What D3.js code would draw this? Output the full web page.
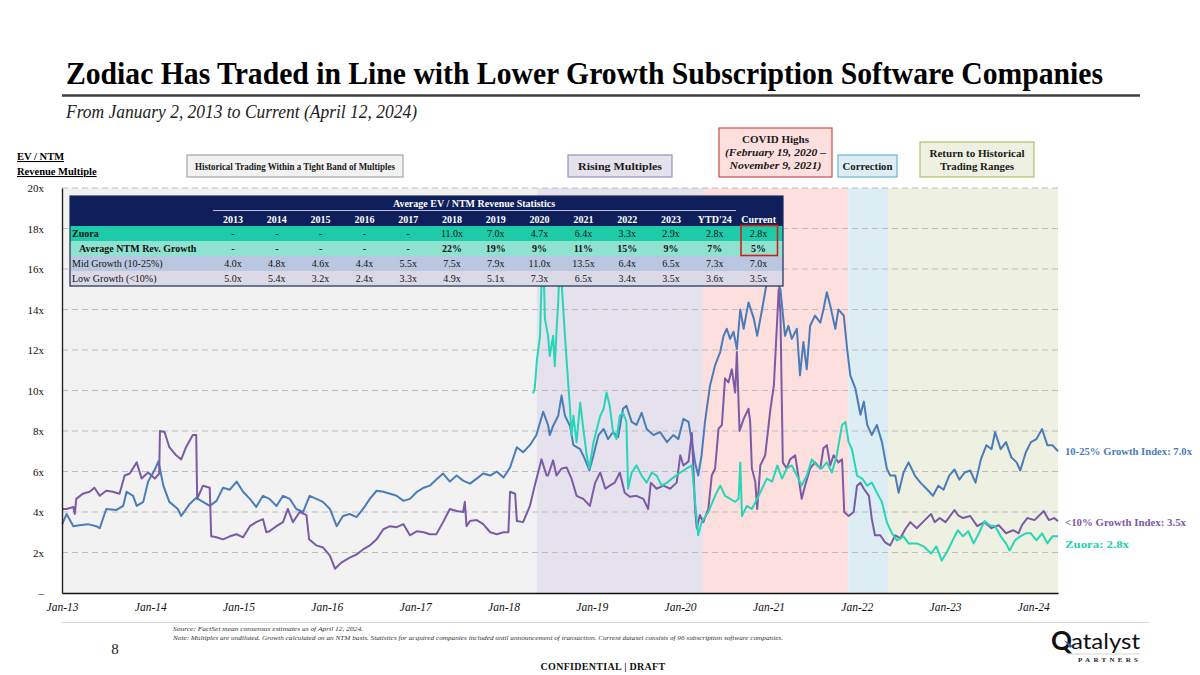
<!DOCTYPE html>
<html><head><meta charset="utf-8">
<script src="https://cdn.jsdelivr.net/npm/d3@7"></script>
<style>
body{margin:0;background:#fff;}
svg{display:block;font-family:"Liberation Serif","Times New Roman",serif;}
</style></head><body>
<svg id="c" width="1200" height="675"></svg>
<script>
// ---------- DATA ----------
const midGrowth = [
["2013-01-02",3.4],["2013-01-20",3.9],["2013-02-17",3.3],["2013-03-14",3.35],["2013-04-18",3.4],["2013-05-22",3.3],["2013-06-06",3.2],["2013-07-03",4.15],["2013-08-14",4.1],["2013-09-11",4.3],["2013-09-25",5.0],["2013-10-22",4.8],["2013-11-06",4.3],["2013-12-03",4.5],["2013-12-23",5.5],
["2014-01-20",6.1],["2014-02-04",6.5],["2014-02-24",5.3],["2014-03-21",4.5],["2014-04-25",4.15],["2014-05-09",3.8],["2014-06-13",4.4],["2014-07-10",4.7],["2014-08-07",4.5],["2014-09-04",4.3],["2014-10-02",4.55],["2014-10-29",5.2],["2014-11-26",5.1],["2014-12-24",5.5],
["2015-01-20",5.0],["2015-02-17",4.65],["2015-03-15",4.25],["2015-04-12",4.8],["2015-05-09",4.65],["2015-06-07",4.3],["2015-07-04",4.8],["2015-08-01",4.65],["2015-08-28",4.15],["2015-09-25",4.0],["2015-10-22",4.8],["2015-11-19",4.65],["2015-12-16",4.5],
["2016-01-14",4.15],["2016-02-11",3.3],["2016-03-08",3.8],["2016-04-05",3.9],["2016-05-03",3.75],["2016-05-30",4.15],["2016-06-27",4.65],["2016-07-25",5.05],["2016-08-22",5.0],["2016-09-19",4.9],["2016-10-16",4.8],["2016-11-13",4.55],["2016-12-10",4.65],
["2017-01-08",5.0],["2017-02-05",5.2],["2017-03-02",5.3],["2017-03-29",5.6],["2017-04-26",5.9],["2017-05-24",5.5],["2017-06-21",5.8],["2017-07-18",5.55],["2017-08-15",5.4],["2017-09-12",5.65],["2017-10-09",5.9],["2017-11-07",5.8],["2017-12-04",6.0],
["2018-01-01",5.7],["2018-01-28",6.2],["2018-02-25",7.2],["2018-03-23",6.95],["2018-04-20",7.3],["2018-05-17",7.8],["2018-06-14",8.95],["2018-07-04",8.3],["2018-07-11",7.8],["2018-07-25",8.25],["2018-08-15",8.75],["2018-08-29",9.75],["2018-09-12",8.75],["2018-10-03",8.25],["2018-10-17",7.3],["2018-11-14",7.1],["2018-12-04",6.6],["2018-12-22",6.05],
["2019-01-08",6.8],["2019-01-29",7.8],["2019-02-19",8.1],["2019-03-09",7.6],["2019-03-30",7.95],["2019-04-20",7.7],["2019-05-10",9.1],["2019-05-24",9.25],["2019-06-15",8.45],["2019-07-05",8.3],["2019-07-26",8.9],["2019-08-16",8.1],["2019-09-13",7.8],["2019-10-10",7.95],["2019-11-08",7.45],["2019-12-04",7.8],["2019-12-25",7.6],
["2020-01-15",8.6],["2020-02-05",8.45],["2020-02-19",7.45],["2020-03-03",6.45],["2020-03-16",5.8],["2020-03-30",6.8],["2020-04-13",8.45],["2020-05-04",10.25],["2020-05-25",11.25],["2020-06-15",11.9],["2020-06-29",12.7],["2020-07-12",13.05],["2020-07-26",12.55],["2020-08-09",12.9],["2020-08-23",12.05],["2020-09-06",14.0],["2020-09-20",13.05],["2020-10-10",14.35],["2020-11-01",13.55],["2020-11-15",12.7],["2020-12-05",14.0],["2020-12-25",15.35],
["2021-01-09",16.5],["2021-01-20",17.2],["2021-01-29",15.5],["2021-02-19",15.0],["2021-03-10",12.7],["2021-03-24",13.2],["2021-04-07",12.55],["2021-04-28",13.05],["2021-05-11",10.75],["2021-05-25",12.4],["2021-06-08",11.05],["2021-06-22",13.2],["2021-07-12",13.7],["2021-08-03",13.35],["2021-08-16",14.0],["2021-08-30",14.85],["2021-09-13",14.2],["2021-10-04",13.05],["2021-10-17",14.0],["2021-11-08",13.7],["2021-11-22",12.05],["2021-12-05",10.75],["2021-12-26",10.1],
["2022-01-16",8.8],["2022-01-30",9.45],["2022-02-13",8.3],["2022-03-04",7.8],["2022-03-25",8.3],["2022-04-15",7.45],["2022-05-05",6.15],["2022-05-19",5.8],["2022-06-09",5.8],["2022-06-23",4.95],["2022-07-13",5.95],["2022-08-03",6.45],["2022-08-29",5.8],["2022-09-21",5.45],["2022-10-20",5.1],["2022-11-12",4.8],["2022-12-04",5.3],["2022-12-26",5.1],
["2023-01-18",5.8],["2023-02-09",6.1],["2023-03-01",5.6],["2023-03-23",5.95],["2023-04-15",6.05],["2023-05-07",5.45],["2023-05-29",6.6],["2023-06-21",7.3],["2023-07-12",7.1],["2023-07-27",7.95],["2023-08-19",7.1],["2023-09-10",7.45],["2023-10-02",6.7],["2023-10-24",6.45],["2023-11-08",6.05],["2023-12-01",6.95],["2023-12-22",7.45],
["2024-01-14",7.6],["2024-02-06",8.1],["2024-02-28",7.3],["2024-03-20",7.3],["2024-04-12",7.0]
];
const lowGrowth = [
["2013-01-02",4.15],["2013-01-20",4.15],["2013-02-17",4.25],["2013-02-23",3.9],["2013-03-01",4.65],["2013-03-28",4.9],["2013-04-25",5.0],["2013-05-15",5.2],["2013-06-06",4.8],["2013-07-03",5.05],["2013-07-30",5.0],["2013-08-27",4.9],["2013-09-17",5.8],["2013-10-08",5.9],["2013-11-06",6.45],["2013-11-26",5.65],["2013-12-23",5.95],
["2014-01-20",5.65],["2014-02-07",5.9],["2014-02-10",8.0],["2014-03-01",7.95],["2014-03-21",7.2],["2014-04-18",6.8],["2014-05-09",6.6],["2014-05-29",7.2],["2014-06-26",7.8],["2014-07-10",7.8],["2014-07-14",4.65],["2014-08-07",5.3],["2014-09-04",5.2],["2014-09-10",2.8],["2014-10-02",2.75],["2014-10-29",2.65],["2014-11-26",2.8],["2014-12-24",2.9],
["2015-01-20",2.75],["2015-02-17",3.3],["2015-03-15",3.5],["2015-04-12",3.65],["2015-04-26",3.0],["2015-05-09",3.05],["2015-06-07",3.3],["2015-07-04",3.5],["2015-07-24",4.15],["2015-08-14",3.5],["2015-09-11",4.0],["2015-10-09",3.85],["2015-10-20",2.65],["2015-11-19",2.35],["2015-12-16",2.25],
["2016-01-14",1.85],["2016-02-04",1.2],["2016-03-01",1.5],["2016-04-05",1.75],["2016-05-03",1.9],["2016-05-30",2.15],["2016-06-27",2.35],["2016-07-25",2.65],["2016-08-22",3.15],["2016-09-19",3.3],["2016-10-16",3.25],["2016-11-13",3.4],["2016-12-10",2.85],
["2017-01-08",3.05],["2017-02-05",3.0],["2017-03-02",2.9],["2017-03-29",2.9],["2017-04-26",3.5],["2017-05-24",4.15],["2017-06-21",4.05],["2017-07-18",4.0],["2017-07-25",4.5],["2017-08-01",3.3],["2017-08-15",3.55],["2017-09-12",3.6],["2017-10-09",3.4],["2017-11-07",3.0],["2017-12-04",2.9],
["2018-01-01",3.0],["2018-01-21",3.0],["2018-01-28",5.0],["2018-02-18",4.9],["2018-02-25",3.55],["2018-03-23",3.5],["2018-04-20",4.3],["2018-05-10",5.3],["2018-06-07",6.6],["2018-06-28",5.8],["2018-07-04",5.8],["2018-07-25",6.55],["2018-08-08",5.8],["2018-08-29",6.15],["2018-09-19",6.2],["2018-10-09",5.65],["2018-10-30",4.8],["2018-11-27",4.65],["2018-12-24",4.3],
["2019-01-15",5.45],["2019-02-05",5.95],["2019-02-26",5.15],["2019-03-16",5.3],["2019-04-06",5.45],["2019-04-27",5.95],["2019-05-17",4.95],["2019-06-07",4.75],["2019-07-05",4.8],["2019-08-02",4.65],["2019-08-22",4.15],["2019-09-02",5.45],["2019-09-26",5.15],["2019-10-24",5.3],["2019-11-21",5.15],["2019-12-18",5.45],
["2020-01-02",6.8],["2020-01-15",6.3],["2020-02-05",6.5],["2020-02-19",7.9],["2020-03-03",4.2],["2020-03-10",3.2],["2020-03-23",3.85],["2020-04-06",3.5],["2020-04-27",4.15],["2020-05-11",5.8],["2020-05-25",6.15],["2020-06-08",8.1],["2020-06-22",8.3],["2020-07-05",10.6],["2020-07-19",10.4],["2020-08-02",11.05],["2020-08-16",9.9],["2020-08-23",11.9],["2020-09-03",8.0],["2020-09-20",8.6],["2020-10-10",9.1],["2020-10-17",8.45],["2020-10-24",6.15],["2020-11-07",5.5],["2020-11-15",4.15],["2020-11-28",6.3],["2020-12-18",6.8],
["2021-01-09",9.1],["2021-01-23",10.25],["2021-02-06",13.55],["2021-02-12",15.0],["2021-02-19",13.85],["2021-03-01",6.45],["2021-03-17",6.15],["2021-03-31",6.6],["2021-04-21",6.8],["2021-05-04",5.8],["2021-05-18",4.65],["2021-06-01",5.3],["2021-06-22",6.15],["2021-07-12",6.45],["2021-08-03",6.15],["2021-08-16",7.15],["2021-08-30",7.3],["2021-09-13",6.3],["2021-09-27",6.8],["2021-10-17",6.45],["2021-11-01",6.6],["2021-11-10",4.0],["2021-11-28",3.8],["2021-12-19",4.0],
["2022-01-02",5.3],["2022-01-16",5.45],["2022-01-30",5.15],["2022-02-20",4.8],["2022-03-04",3.65],["2022-03-17",2.85],["2022-04-08",2.85],["2022-04-28",2.5],["2022-05-19",2.35],["2022-06-09",2.85],["2022-06-30",2.7],["2022-07-20",3.15],["2022-08-10",3.5],["2022-09-06",3.2],["2022-10-05",3.55],["2022-11-04",3.9],["2022-11-19",3.5],["2022-12-10",3.7],
["2023-01-03",3.5],["2023-02-09",4.1],["2023-02-23",3.85],["2023-03-16",3.7],["2023-04-15",3.8],["2023-05-14",3.3],["2023-06-13",3.5],["2023-07-12",3.2],["2023-08-11",3.35],["2023-09-10",2.95],["2023-10-09",3.1],["2023-11-01",2.95],["2023-11-15",3.35],["2023-12-07",3.7],
["2024-01-06",3.6],["2024-02-13",4.05],["2024-03-05",3.6],["2024-03-27",3.7],["2024-04-12",3.55]
];
const zuora = [
["2018-05-03",9.85],["2018-05-10",10.1],["2018-05-19",11.5],["2018-06-01",12.7],["2018-06-07",15.3],["2018-06-14",17.0],["2018-06-21",13.55],["2018-07-04",12.7],["2018-07-11",11.7],["2018-07-25",12.7],["2018-08-01",11.2],["2018-08-08",12.9],["2018-08-15",14.35],["2018-08-22",16.5],["2018-08-29",15.35],["2018-09-12",12.7],["2018-09-26",10.25],["2018-10-03",9.1],["2018-10-09",7.8],["2018-10-17",8.75],["2018-10-30",7.45],["2018-11-14",9.4],["2018-11-27",8.1],["2018-12-11",6.8],["2018-12-22",6.15],
["2019-01-08",7.45],["2019-01-22",8.1],["2019-02-05",8.75],["2019-02-19",9.1],["2019-03-03",9.9],["2019-03-16",9.25],["2019-03-30",7.95],["2019-04-13",7.6],["2019-04-27",8.75],["2019-05-10",8.9],["2019-05-24",8.45],["2019-05-31",5.15],["2019-06-15",5.95],["2019-07-05",6.3],["2019-07-26",5.8],["2019-08-16",5.45],["2019-09-06",5.95],["2019-09-26",5.8],["2019-10-17",5.3],["2019-11-08",5.45],["2019-12-04",5.7],
["2020-01-02",5.95],["2020-01-29",6.15],["2020-02-19",6.3],["2020-03-03",4.5],["2020-03-16",2.85],["2020-03-30",3.5],["2020-04-27",4.0],["2020-05-25",4.8],["2020-06-15",5.3],["2020-07-05",4.8],["2020-07-26",4.65],["2020-08-16",4.5],["2020-08-30",4.65],["2020-09-06",6.45],["2020-09-13",3.8],["2020-10-03",4.3],["2020-10-24",4.15],["2020-11-15",4.65],["2020-12-05",5.15],["2020-12-25",5.65],
["2021-01-16",5.5],["2021-02-06",6.3],["2021-02-26",5.65],["2021-03-17",6.15],["2021-04-07",6.3],["2021-04-28",5.8],["2021-05-18",5.3],["2021-06-08",5.8],["2021-06-29",6.6],["2021-07-19",6.3],["2021-08-09",6.15],["2021-08-30",6.45],["2021-09-20",5.95],["2021-10-10",6.8],["2021-11-01",8.3],["2021-11-15",8.45],["2021-11-28",7.45],["2021-12-12",7.1],
["2022-01-02",5.8],["2022-01-23",5.65],["2022-02-13",5.3],["2022-03-04",5.45],["2022-03-25",4.95],["2022-04-15",4.5],["2022-05-05",3.5],["2022-05-26",2.95],["2022-06-16",2.6],["2022-07-13",2.8],["2022-08-03",2.45],["2022-09-06",2.45],["2022-10-05",2.3],["2022-11-04",1.95],["2022-11-26",2.3],["2022-12-18",1.6],
["2023-01-10",2.05],["2023-02-01",2.6],["2023-02-23",3.1],["2023-03-16",2.8],["2023-04-07",3.05],["2023-04-29",2.45],["2023-05-21",2.95],["2023-06-13",3.55],["2023-07-04",3.35],["2023-07-27",3.3],["2023-08-19",2.8],["2023-09-10",2.45],["2023-09-25",2.1],["2023-10-17",2.6],["2023-11-08",2.8],["2023-12-01",2.95],["2023-12-22",2.95],
["2024-01-14",2.6],["2024-02-06",2.95],["2024-02-28",2.45],["2024-03-20",2.8],["2024-04-12",2.8]
];
const yTickValues = [0,2,4,6,8,10,12,14,16,18,20];
const yTickLabels = ["–","2x","4x","6x","8x","10x","12x","14x","16x","18x","20x"];
const xTickDates = ["2013-01-01","2014-01-01","2015-01-01","2016-01-01","2017-01-01","2018-01-01","2019-01-01","2020-01-01","2021-01-01","2022-01-01","2023-01-01","2024-01-01"];
const xTickLabels = ["Jan-13","Jan-14","Jan-15","Jan-16","Jan-17","Jan-18","Jan-19","Jan-20","Jan-21","Jan-22","Jan-23","Jan-24"];
const phaseStarts = ["2013-01-01","2018-05-18","2020-04-05","2021-11-27","2022-05-10"];
const phaseEnds   = ["2018-05-18","2020-04-05","2021-11-27","2022-05-10","2024-04-12"];
const tableCols = ["2013","2014","2015","2016","2017","2018","2019","2020","2021","2022","2023","YTD'24","Current"];
const tableRowLabels = ["Zuora","Average NTM Rev. Growth","Mid Growth (10-25%)","Low Growth (<10%)"];
const tableZuora  = ["-","-","-","-","-","11.0x","7.0x","4.7x","6.4x","3.3x","2.9x","2.8x","2.8x"];
const tableGrowth = ["-","-","-","-","-","22%","19%","9%","11%","15%","9%","7%","5%"];
const tableMid    = ["4.0x","4.8x","4.6x","4.4x","5.5x","7.5x","7.9x","11.0x","13.5x","6.4x","6.5x","7.3x","7.0x"];
const tableLow    = ["5.0x","5.4x","3.2x","2.4x","3.3x","4.9x","5.1x","7.3x","6.5x","3.4x","3.5x","3.6x","3.5x"];
const endLabels = ["10-25% Growth Index: 7.0x","<10% Growth Index: 3.5x","Zuora: 2.8x"];

// ---------- DRAW ----------
const svg = d3.select("#c");
const parse = d3.timeParse("%Y-%m-%d");
const x = d3.scaleTime().domain([parse("2013-01-01"), parse("2024-04-12")]).range([62, 1058]);
const y = d3.scaleLinear().domain([0, 20]).range([593, 188]);
const C = {mid:"#4a7cba", low:"#7b5ba6", zu:"#27d6b6"};

// title
svg.append("text").attr("x",66).attr("y",84).attr("font-size",31).attr("font-weight","bold").attr("fill","#000")
  .attr("textLength",1037).attr("lengthAdjust","spacingAndGlyphs")
  .text("Zodiac Has Traded in Line with Lower Growth Subscription Software Companies");
svg.append("line").attr("x1",62).attr("x2",1140).attr("y1",95.5).attr("y2",95.5).attr("stroke","#3f3f3f").attr("stroke-width",2.5);
svg.append("text").attr("x",66).attr("y",118).attr("font-size",19).attr("font-style","italic").attr("fill","#222")
  .attr("textLength",351).attr("lengthAdjust","spacingAndGlyphs")
  .text("From January 2, 2013 to Current (April 12, 2024)");

// y axis title
const yt = svg.append("g").attr("font-size",10.5).attr("font-weight","bold").attr("text-decoration","underline");
yt.append("text").attr("x",17).attr("y",160).text("EV / NTM");
yt.append("text").attr("x",17).attr("y",175).text("Revenue Multiple");

// phase backgrounds
const phaseFills = ["#f2f2f2","#e5e1ed","#fde0de","#dcedf3","#eef1e2"];
svg.append("g").selectAll("rect").data(phaseStarts).join("rect")
  .attr("x",(d)=>x(parse(d))).attr("width",(d,i)=>x(parse(phaseEnds[i]))-x(parse(d)))
  .attr("y",y(20)).attr("height",y(0)-y(20)).attr("fill",(d,i)=>phaseFills[i]);

// gridlines
svg.append("g").selectAll("line").data(yTickValues.filter(v=>v>0)).join("line")
  .attr("x1",62).attr("x2",1058).attr("y1",d=>y(d)).attr("y2",d=>y(d))
  .attr("stroke","#bdbdbd").attr("stroke-width",1).attr("stroke-dasharray","6,4");

// lines
const line = d3.line().x(d=>x(parse(d[0]))).y(d=>y(d[1]));
const series = [[midGrowth,C.mid],[lowGrowth,C.low],[zuora,C.zu]];
svg.append("g").selectAll("path").data(series).join("path")
  .attr("d",d=>line(d[0])).attr("fill","none").attr("stroke",d=>d[1]).attr("stroke-width",2).attr("stroke-linejoin","round");

// axes
const xAxis = d3.axisBottom(x).tickValues(xTickDates.map(parse)).tickFormat((d,i)=>xTickLabels[i]).tickSize(0).tickPadding(10);
const gx = svg.append("g").attr("transform",`translate(0,${y(0)})`).call(xAxis);
gx.select(".domain").attr("stroke","#111").attr("stroke-width",1.6);
gx.selectAll("text").attr("font-family","'Liberation Serif',serif").attr("font-size",11.5).attr("font-style","italic").attr("fill","#111");
const yAxis = d3.axisLeft(y).tickValues(yTickValues).tickFormat((d,i)=>yTickLabels[i]).tickSize(0).tickPadding(18);
const gy = svg.append("g").attr("transform","translate(62,0)").call(yAxis);
gy.select(".domain").attr("stroke","#222").attr("stroke-width",1.4);
gy.selectAll("text").attr("font-family","'Liberation Serif',serif").attr("font-size",11).attr("fill","#111");

// end labels
const endVals = [midGrowth[midGrowth.length-1][1], lowGrowth[lowGrowth.length-1][1], zuora[zuora.length-1][1]];
const endColors = [C.mid, C.low, "#1fcfae"];
const endDy = [3.5, 5, 12];
const endLen = [127, 121, 64];
svg.append("g").selectAll("text").data(endLabels).join("text")
  .attr("x",1065).attr("y",(d,i)=>y(endVals[i])+endDy[i]).attr("font-size",11).attr("font-weight","bold")
  .attr("textLength",(d,i)=>endLen[i]).attr("lengthAdjust","spacingAndGlyphs")
  .attr("fill",(d,i)=>endColors[i]).text(d=>d);

// phase annotation boxes
const boxes = [
 {x:187,y:155,w:216,h:22,fill:"#f2f2f2",stroke:"#a6a6a6",fs:10.5,lines:[["Historical Trading Within a Tight Band of Multiples","",200]]},
 {x:568,y:155,w:104,h:22,fill:"#e5e1ed",stroke:"#9a8fc0",fs:11,lines:[["Rising Multiples","",84]]},
 {x:719,y:128,w:113,h:49,fill:"#fde0de",stroke:"#c9504e",fs:11,lines:[["COVID Highs","",0],["(February 19, 2020 –","italic",101],["November 9, 2021)","italic",92]]},
 {x:838,y:155,w:59,h:22,fill:"#dcedf3",stroke:"#6cb7d2",fs:11,lines:[["Correction","",50]]},
 {x:920,y:142,w:114,h:35,fill:"#eef1e2",stroke:"#a9c46a",fs:11,lines:[["Return to Historical","",95],["Trading Ranges","",74]]}
];
const bg = svg.append("g").selectAll("g").data(boxes).join("g");
bg.append("rect").attr("x",d=>d.x).attr("y",d=>d.y).attr("width",d=>d.w).attr("height",d=>d.h)
  .attr("fill",d=>d.fill).attr("stroke",d=>d.stroke).attr("stroke-width",1.2);
bg.each(function(d){
  const g = d3.select(this);
  const n = d.lines.length, lh = 13;
  const y0 = d.y + d.h/2 - (n-1)*lh/2 + 3.8;
  d.lines.forEach((l,i)=>{
    const t = g.append("text").attr("x",d.x+d.w/2).attr("y",y0+i*lh).attr("text-anchor","middle")
     .attr("font-size",d.fs).attr("font-weight","bold").attr("font-style",l[1]||"normal").attr("fill","#1a1a1a").text(l[0]);
    if (l[2]) t.attr("textLength",l[2]).attr("lengthAdjust","spacingAndGlyphs");
  });
});

// ---------- TABLE ----------
const tx0 = 70, tx1 = 783;
const colX = d3.scaleBand().domain(tableCols).range([211.1, 780.5]);
const rowY = d3.scaleBand().domain(tableRowLabels).range([226, 286]);
const tg = svg.append("g");
tg.append("rect").attr("x",tx0).attr("y",196).attr("width",tx1-tx0).attr("height",30).attr("fill","#0e1f5b");
const rowFills = ["#1ecba8","#8fe2cf","#b9c8e0","#dcd9e7"];
tg.selectAll("rect.row").data(tableRowLabels).join("rect").attr("class","row")
  .attr("x",tx0).attr("y",d=>rowY(d)).attr("width",tx1-tx0).attr("height",rowY.bandwidth()).attr("fill",(d,i)=>rowFills[i]);
tg.append("rect").attr("x",tx0).attr("y",196).attr("width",tx1-tx0).attr("height",90).attr("fill","none").attr("stroke","#1b2a55").attr("stroke-width",1.2);
tg.append("text").attr("x",474).attr("y",207).attr("text-anchor","middle").attr("font-size",10).attr("font-weight","bold").attr("fill","#fff").text("Average EV / NTM Revenue Statistics");
tg.append("line").attr("x1",213).attr("x2",736).attr("y1",210.5).attr("y2",210.5).attr("stroke","#e8e8f0").attr("stroke-width",0.8);
tg.selectAll("text.hdr").data(tableCols).join("text").attr("class","hdr")
  .attr("x",d=>colX(d)+colX.bandwidth()/2).attr("y",223).attr("text-anchor","middle")
  .attr("font-size",10).attr("font-weight","bold").attr("fill","#fff").text(d=>d);
const tableRows = [tableZuora, tableGrowth, tableMid, tableLow];
const labelX = [72, 79, 72, 72];
const labelBold = ["bold","bold","normal","normal"];
tableRows.forEach((vals,ri)=>{
  const yy = rowY(tableRowLabels[ri]) + rowY.bandwidth()/2 + 3.6;
  tg.append("text").attr("x",labelX[ri]).attr("y",yy).attr("font-size",10).attr("font-weight",labelBold[ri]).attr("fill","#111").text(tableRowLabels[ri]);
  tg.selectAll(null).data(vals).join("text")
    .attr("x",(d,i)=>colX(tableCols[i])+colX.bandwidth()/2).attr("y",yy).attr("text-anchor","middle")
    .attr("font-size",10).attr("font-weight",ri===1?"bold":"normal").attr("fill","#111").text(d=>d);
});
tg.append("rect").attr("x",741).attr("y",225.5).attr("width",36.5).attr("height",30).attr("fill","none").attr("stroke","#d0201e").attr("stroke-width",1.6);

// ---------- FOOTER ----------
svg.append("line").attr("x1",62).attr("x2",1150).attr("y1",622.5).attr("y2",622.5).attr("stroke","#d9d9d9").attr("stroke-width",1);
svg.append("text").attr("x",173).attr("y",631).attr("font-size",6.5).attr("font-style","italic").attr("fill","#333")
  .attr("textLength",190).attr("lengthAdjust","spacingAndGlyphs").text("Source: FactSet mean consensus estimates as of April 12, 2024.");
svg.append("text").attr("x",173).attr("y",639.5).attr("font-size",6.5).attr("font-style","italic").attr("fill","#333")
  .attr("textLength",610).attr("lengthAdjust","spacingAndGlyphs")
  .text("Note: Multiples are undiluted. Growth calculated on an NTM basis. Statistics for acquired companies included until announcement of transaction. Current dataset consists of 96 subscription software companies.");
svg.append("text").attr("x",115).attr("y",654).attr("text-anchor","middle").attr("font-size",15).attr("fill","#222").text("8");
svg.append("text").attr("x",603).attr("y",670).attr("text-anchor","middle").attr("font-size",10).attr("font-weight","bold").attr("fill","#111")
  .attr("letter-spacing",0.3).text("CONFIDENTIAL | DRAFT");
// logo
const lg = svg.append("g");
lg.append("text").attr("x",1051).attr("y",650).attr("font-family","Lato, 'Open Sans', sans-serif").attr("font-size",26).attr("font-weight","bold").attr("fill","#111").text("Q");
lg.append("text").attr("x",1071).attr("y",649).attr("font-family","Lato, 'Open Sans', sans-serif").attr("font-size",21).attr("fill","#111")
  .attr("textLength",69).attr("lengthAdjust","spacingAndGlyphs").text("atalyst");
lg.append("path").attr("d","M1064,640 l6,8 l3,-2 z").attr("fill","#2b5aa8");
lg.append("line").attr("x1",1067).attr("x2",1140).attr("y1",654).attr("y2",654).attr("stroke","#bbb").attr("stroke-width",0.6);
lg.append("text").attr("x",1078).attr("y",662).attr("font-family","'Liberation Serif',serif").attr("font-size",7).attr("font-weight","bold").attr("fill","#222")
  .attr("textLength",60).attr("lengthAdjust","spacing").text("PARTNERS");
</script>
</body></html>
